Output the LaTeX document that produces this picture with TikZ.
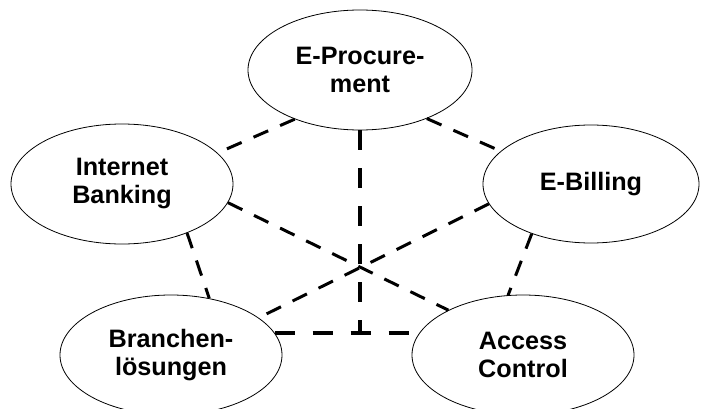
\documentclass[tikz,border=0pt]{standalone}
\usepackage{fontspec}
\setmainfont{Liberation Sans}
\usetikzlibrary{shapes.geometric}
\begin{document}
\begin{tikzpicture}[x=1pt,y=-1pt,
  bubble/.style={ellipse,draw=black,line width=0.8pt,minimum width=222pt,minimum height=120pt,inner sep=0pt,align=center,font=\fontsize{25.2}{28}\selectfont\bfseries},
  thinlink/.style={draw=black,line width=3pt,dash pattern=on 16pt off 13pt},
  thicklink/.style={draw=black,line width=4.5pt,dash pattern=on 20pt off 18pt}]
\useasboundingbox (0,0) rectangle (701,409);
\node[bubble,minimum width=224pt] (ep) at (360,70) {E-Procure-\\ment};
\node[bubble] (ib) at (122,184) {Internet\\Banking};
\node[bubble,minimum width=216pt,minimum height=118pt] (eb) at (591,184) {E-Billing};
\node[bubble] (bl) at (171,355) {Branchen-\\lösungen};
\node[bubble] (ac) at (523,355) {Access\\Control};
\coordinate (tj) at (ep.south |- bl.12);
\draw[thinlink] (ep.217.6) -- (ib.18.6);
\draw[thinlink] (ep.-36.7) -- (eb.160.5);
\draw[thicklink] (ep.south) -- (tj);
\draw[thicklink] (bl.12) -- (ac.168);
\draw[thinlink] (ib.-10.8) -- (ac.149);
\draw[thinlink] (eb.191.7) -- (bl.23.8);
\draw[thinlink] (ib.-37) -- (bl.56.1);
\draw[thinlink] (eb.220.8) -- (ac.104);
\end{tikzpicture}
\end{document}
